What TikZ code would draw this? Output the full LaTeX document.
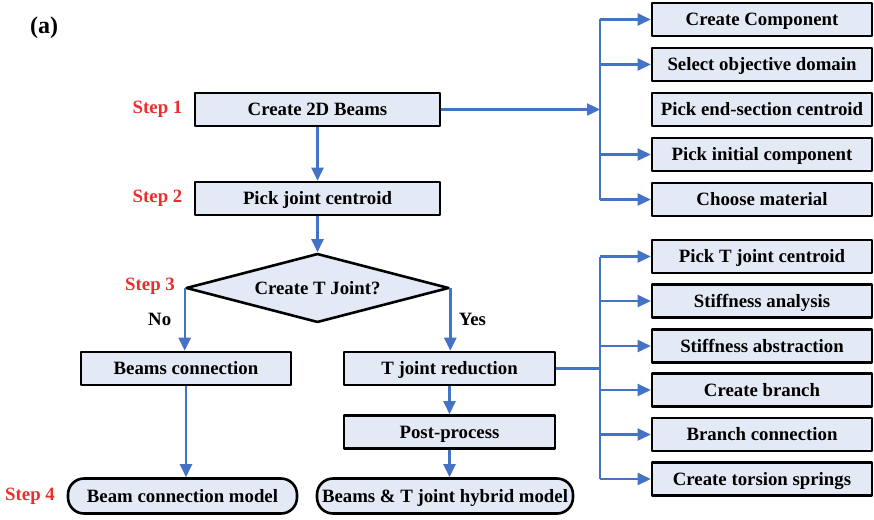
\documentclass[tikz,border=0pt]{standalone}
\usepackage{fontspec}
\setmainfont{Liberation Serif}
\usetikzlibrary{arrows.meta,shapes.geometric}
\definecolor{boxfill}{RGB}{228,234,245}
\definecolor{flowblue}{RGB}{68,114,196}
\definecolor{stepred}{RGB}{235,45,45}

\begin{document}
\begin{tikzpicture}[x=1pt, y=-1pt, font=\fontsize{18.8}{20}\selectfont\bfseries, line join=round, >={Triangle[length=13pt,width=12pt]}]
	\tikzset{
		box/.style={draw, line width=2.6pt, fill=boxfill, minimum height=33pt, inner sep=0pt, text height=12.5pt, text depth=0pt},
		terminal/.style={box, rounded corners=16pt, minimum height=35pt},
		decision/.style={draw, line width=2.6pt, fill=boxfill, diamond, aspect=3.8, inner sep=0pt, minimum width=263pt, minimum height=69pt},
		flow/.style={draw=flowblue, line width=2.4pt},
		steplab/.style={text=stepred}
	}
	\useasboundingbox (0,0) rectangle (874,519);
	\node[font=\fontsize{24}{26}\selectfont\bfseries] (tag) at (44,28) {(a)};
	% main column
	\node[box, minimum width=245pt] (beams2d) at (317.5,109.5) {Create 2D Beams};
	\node[box, minimum width=245pt] (centroid) at (317.5,198.5) {Pick joint centroid};
	\node[decision] (tjoint) at (317.5,288) {Create T Joint?};
	\node[box, minimum width=210pt] (bconn) at (186,368.5) {Beams connection};
	\node[box, minimum width=211pt] (tred) at (449.5,368.5) {T joint reduction};
	\node[box, minimum width=211pt] (post) at (449.5,432) {Post-process};
	\node[terminal, minimum width=229pt] (bmodel) at (182.5,496) {Beam connection model};
	\node[terminal, minimum width=256pt] (hybrid) at (445,496) {Beams \& T joint hybrid model};
	% step labels
	\node[steplab] (s1) at (157.5,109.5) {Step 1};
	\node[steplab] (s2) at (157.5,198.5) {Step 2};
	\node[steplab] (s3) at (150,286) {Step 3};
	\node[steplab] (s4) at (30,496) {Step 4};
	% sub-tasks of step 1
	\foreach \n/\y/\t in {comp/19.5/Create Component, domain/64.5/Select objective domain,
		endsec/109.5/Pick end-section centroid, initial/154.5/Pick initial component,
		mat/199.5/Choose material}
		\node[box, minimum width=220pt] (\n) at (762,\y) {\t};
	% sub-tasks of T joint reduction
	\foreach \n/\y/\t in {tcent/256.5/Pick T joint centroid, stiff/301/Stiffness analysis,
		abstr/346/Stiffness abstraction, branch/390/Create branch,
		bcon/434.5/Branch connection, spring/479/Create torsion springs}
		\node[box, minimum width=220pt] (\n) at (762,\y) {\t};
	\coordinate (hubA) at (600,109.5);
	\coordinate (hubB) at (600,368.5);
	% connectors
	\draw[flow,->] (beams2d) -- (centroid);
	\draw[flow,->] (centroid) -- (tjoint);
	\draw[flow,->] (tjoint.west) -- (tjoint.west |- bconn.north) node[midway, left=9pt, text=black] {No};
	\draw[flow,->] (tjoint.east) -- (tjoint.east |- tred.north) node[midway, right=4pt, text=black] {Yes};
	\draw[flow,->] (bconn) -- (bconn |- bmodel.north);
	\draw[flow,->] (tred) -- (post);
	\draw[flow,->] (post) -- (post |- hybrid.north);
	\draw[flow,->] (beams2d) -- (hubA);
	\draw[flow] (hubA |- comp.west) -- (hubA |- mat.west);
	\foreach \n in {comp,domain,initial,mat}
		\draw[flow,->] (hubA |- \n.west) -- (\n.west);
	\draw[flow] (tred) -- (hubB);
	\draw[flow] (hubB |- tcent.west) -- (hubB |- spring.west);
	\foreach \n in {tcent,stiff,abstr,branch,bcon,spring}
		\draw[flow,->] (hubB |- \n.west) -- (\n.west);
\end{tikzpicture}
\end{document}
